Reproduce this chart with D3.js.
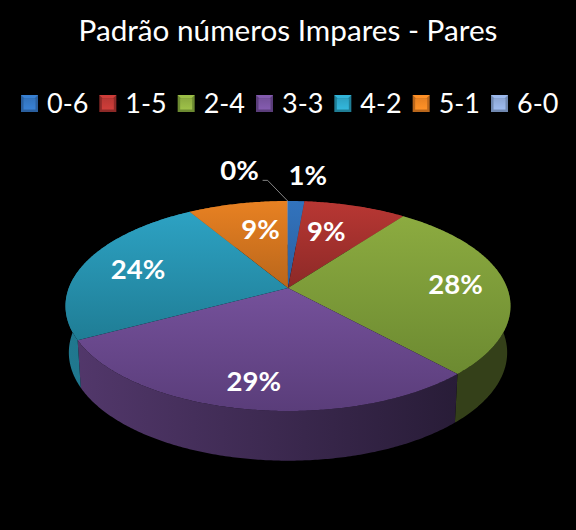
<!DOCTYPE html>
<html><head><meta charset="utf-8">
<script src="https://cdn.jsdelivr.net/npm/d3@7"></script>
<style>html,body{margin:0;background:#000}svg{display:block}</style></head>
<body><svg id="c" width="576" height="530"></svg>
<script>
const titleText = "Padrão números Impares - Pares";
const categories = ["0-6","1-5","2-4","3-3","4-2","5-1","6-0"];
const values = [1.4,8.8,28,29,24.2,8.55,0.05];
const topLight = ["#3273bd","#b83733","#8cab40","#75519b","#2da2c3","#e88122","#8ca6d4"];
const topDark  = ["#2a5f9e","#8c2927","#6c8a31","#5a3d7a","#1f7d95","#b9661b","#7088b0"];
const sideLight= ["#1d4270","#651d1b","#414f22","#53386c","#20788f","#8c4f14","#50607c"];
const sideDark = ["#1d4270","#651d1b","#344019","#281c37","#1b6478","#8c4f14","#50607c"];
const labelRadius = [1.375,0.67,0.77,0.80,0.734,0.669,1.455];
const labelNudgeX = [9,-9,0,0,0,8,-48];
const labelNudgeY = [0,0,-1,0,0,0,0];

const svg = d3.select("#c");
const sum = d3.sum(values);
const pct = d3.format(".0%");
const arcs = d3.pie().sort(null)(values);

// perspective projection of the pie disc onto the page
const cx=288, cy=288, R=219.2, K=0.1715, B=101.9;
function project(a, r, lower){
  const X=r*Math.sin(a), Y=-r*Math.cos(a), w=1-K*Y;
  const x=R*X/w, y=B*Y/w;
  return lower ? [cx+0.985*x, 334+1.03*y] : [cx+x, cy+y];
}
const rim=(a0,a1,lower)=>{
  const n=Math.max(2,Math.ceil((a1-a0)/0.01));
  return d3.range(n+1).map(i=>project(a0+(a1-a0)*i/n,1,lower));
};
const line=d3.line();
const defs=svg.append("defs");

arcs.forEach((d,i)=>{
  const g=defs.append("linearGradient").attr("id","t"+i)
    .attr("x1",0).attr("x2",0).attr("y1",0).attr("y2",1);
  g.append("stop").attr("offset",0).attr("stop-color",topLight[i]);
  g.append("stop").attr("offset",1).attr("stop-color",topDark[i]);
  const s=defs.append("linearGradient").attr("id","s"+i).attr("gradientUnits","userSpaceOnUse")
    .attr("x1",66).attr("x2",460).attr("y1",0).attr("y2",0);
  s.append("stop").attr("offset",0).attr("stop-color",sideLight[i]);
  s.append("stop").attr("offset",1).attr("stop-color",sideDark[i]);
  const m=defs.append("linearGradient").attr("id","m"+i)
    .attr("x1",0).attr("x2",0).attr("y1",0).attr("y2",1);
  m.append("stop").attr("offset",0).attr("stop-color",topLight[i]);
  m.append("stop").attr("offset",1).attr("stop-color",d3.color(topLight[i]).brighter(0.35));
});

// side walls
svg.append("g").selectAll("path").data(arcs).join("path")
  .attr("d",d=>line(rim(d.startAngle,d.endAngle,false).concat(rim(d.startAngle,d.endAngle,true).reverse()))+"Z")
  .attr("fill",(d,i)=>`url(#s${i})`);

// top faces
svg.append("g").selectAll("path").data(arcs).join("path")
  .attr("d",d=>line([[cx,cy]].concat(rim(d.startAngle,d.endAngle,false)))+"Z")
  .attr("fill",(d,i)=>`url(#t${i})`);

// leader line for the smallest slice
const last=arcs[6], mid=(last.startAngle+last.endAngle)/2;
const lp=project(mid,1,false);
const lbl=project(mid,labelRadius[6],false);
svg.append("path").attr("fill","none").attr("stroke","#a6a6a6").attr("stroke-width",0.8)
  .attr("d",line([lp,[lbl[0]+labelNudgeX[6]+28,lbl[1]+11],[lbl[0]+labelNudgeX[6]+23,lbl[1]+11]]));

// data labels
svg.append("g").selectAll("text").data(arcs).join("text")
  .each(function(d,i){
    const p=project((d.startAngle+d.endAngle)/2,labelRadius[i],false);
    d3.select(this).attr("x",p[0]+labelNudgeX[i]).attr("y",p[1]+labelNudgeY[i]);
  })
  .attr("text-anchor","middle").attr("dominant-baseline","central")
  .attr("font-family","Lato").attr("font-weight",700).attr("font-size",27.5).attr("fill","#fff")
  .text(d=>pct(d.value/sum));

// title
svg.append("text").attr("x",288).attr("y",41).attr("text-anchor","middle")
  .attr("font-family","Lato").attr("font-size",29.7).attr("fill","#fff").text(titleText);

// legend
const lx=d3.scalePoint().domain(categories).range([21,491]);
const leg=svg.append("g").selectAll("g").data(categories).join("g")
  .attr("transform",d=>`translate(${lx(d)},95)`);
leg.append("rect").attr("width",17).attr("height",17).attr("fill",(d,i)=>topDark[i]);
leg.append("path").attr("d","M0 0H17L13.5 3.5H3.5Z").attr("fill",(d,i)=>d3.color(topLight[i]).brighter(0.3));
leg.append("rect").attr("x",2.5).attr("y",3.5).attr("width",12).attr("height",11).attr("fill",(d,i)=>`url(#m${i})`);
leg.append("text").attr("x",26).attr("y",18).attr("font-family","Lato").attr("font-size",27)
  .attr("fill","#fff").text(d=>d);
</script></body></html>
